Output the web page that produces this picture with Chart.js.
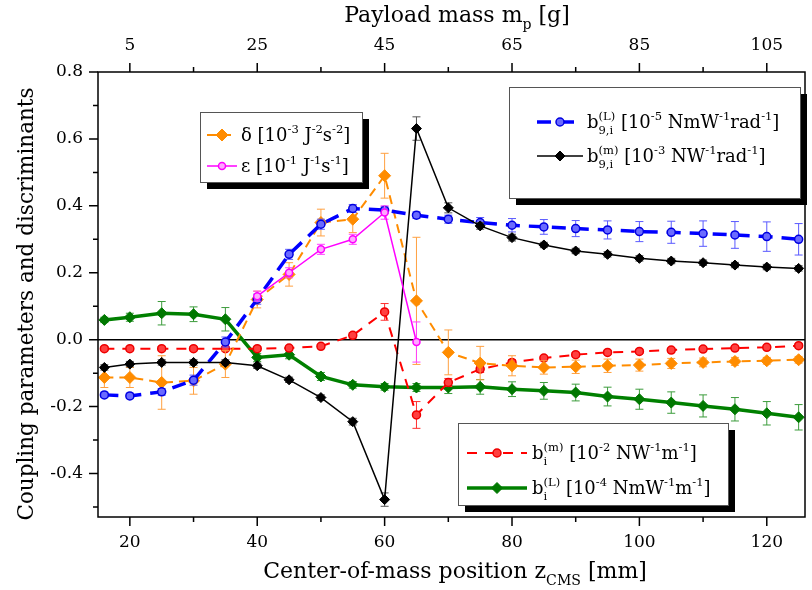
<!DOCTYPE html>
<html>
<head>
<meta charset="utf-8">
<script src="https://cdn.jsdelivr.net/npm/chart.js@4"></script>
<style>
  html, body { margin: 0; padding: 0; background: #fff; }
  canvas { display: block; }
</style>
</head>
<body>
<canvas id="coupling-chart" width="812" height="590"></canvas>
<script>
// Center-of-mass positions z_CMS [mm]
const zPositions = [16, 20, 25, 30, 35, 40, 45, 50, 55, 60, 65, 70, 75, 80, 85, 90, 95, 100, 105, 110, 115, 120, 125];

// Axis tick labels
const zTickLabels    = [20, 40, 60, 80, 100, 120];
const zMinorTicks    = [30, 50, 70, 90, 110];
const massTickLabels = [5, 25, 45, 65, 85, 105];
const massMinorTicks = [15, 35, 55, 75, 95];
const yTickLabels    = [-0.4, -0.2, 0.0, 0.2, 0.4, 0.6, 0.8];
const yMinorTicks    = [-0.5, -0.3, -0.1, 0.1, 0.3, 0.5, 0.7];

// b_9,i^(L) [1e-5 NmW^-1 rad^-1]
const b9LValues = [-0.165, -0.168, -0.156, -0.121, -0.007, 0.121, 0.255, 0.345, 0.392, 0.387, 0.372, 0.360,
                   0.350, 0.342, 0.337, 0.332, 0.328, 0.323, 0.321, 0.317, 0.313, 0.308, 0.300];
const b9LErrors = [0.008, 0.008, 0.010, 0.015, 0.015, 0.015, 0.015, 0.015, 0.012, 0.010, 0.010, 0.012,
                   0.015, 0.020, 0.022, 0.024, 0.027, 0.030, 0.033, 0.038, 0.040, 0.044, 0.047];

// b_9,i^(m) [1e-3 NW^-1 rad^-1]
const b9mValues = [-0.083, -0.073, -0.068, -0.068, -0.068, -0.078, -0.120, -0.173, -0.245, -0.478, 0.631, 0.394,
                   0.340, 0.305, 0.283, 0.265, 0.255, 0.243, 0.235, 0.230, 0.223, 0.217, 0.213];
const b9mErrors = [0.008, 0.008, 0.008, 0.008, 0.008, 0.008, 0.008, 0.008, 0.010, 0.020, 0.035, 0.015,
                   0.010, 0.010, 0.008, 0.008, 0.008, 0.008, 0.008, 0.008, 0.008, 0.008, 0.008];

// delta [1e-3 J^-2 s^-2]
const deltaValues = [-0.113, -0.113, -0.128, -0.123, -0.073, 0.120, 0.195, 0.350, 0.360, 0.490, 0.116, -0.038,
                     -0.070, -0.078, -0.083, -0.081, -0.078, -0.076, -0.071, -0.068, -0.065, -0.063, -0.060];
const deltaErrors = [0.030, 0.030, 0.080, 0.040, 0.040, 0.025, 0.035, 0.040, 0.040, 0.067, 0.190, 0.067,
                     0.050, 0.030, 0.020, 0.020, 0.020, 0.018, 0.015, 0.013, 0.012, 0.010, 0.010];

// epsilon [1e-1 J^-1 s^-1]
const epsValues = [null, null, null, null, null, 0.130, 0.200, 0.270, 0.300, 0.380, -0.007, null,
                   null, null, null, null, null, null, null, null, null, null, null];
const epsErrors = [0, 0, 0, 0, 0, 0.015, 0.015, 0.015, 0.015, 0.020, 0.060, 0,
                   0, 0, 0, 0, 0, 0, 0, 0, 0, 0, 0];

// b_i^(m) [1e-2 NW^-1 m^-1]
const bimValues = [-0.027, -0.027, -0.027, -0.027, -0.027, -0.027, -0.025, -0.020, 0.013, 0.083, -0.225, -0.128,
                   -0.088, -0.068, -0.055, -0.045, -0.038, -0.035, -0.031, -0.028, -0.025, -0.023, -0.018];
const bimErrors = [0.006, 0.006, 0.006, 0.006, 0.006, 0.006, 0.006, 0.006, 0.008, 0.025, 0.040, 0.012,
                   0.010, 0.008, 0.006, 0.006, 0.006, 0.006, 0.006, 0.006, 0.006, 0.006, 0.006];

// b_i^(L) [1e-4 NmW^-1 m^-1]
const biLValues = [0.059, 0.067, 0.079, 0.076, 0.061, -0.053, -0.045, -0.110, -0.135, -0.141, -0.143, -0.143,
                   -0.141, -0.148, -0.153, -0.158, -0.170, -0.178, -0.188, -0.198, -0.208, -0.220, -0.232];
const biLErrors = [0.008, 0.012, 0.035, 0.022, 0.035, 0.012, 0.012, 0.012, 0.010, 0.010, 0.012, 0.018,
                   0.022, 0.022, 0.025, 0.025, 0.028, 0.030, 0.032, 0.033, 0.035, 0.035, 0.038];

const SERIF = '"DejaVu Serif", serif';

function points(values) {
    return zPositions.map(function (z, i) { return { x: z, y: values[i] }; });
}

// Rich text: {t} plain, {sup, sub} stacked small text
function richWidth(ctx, parts, size) {
    let w = 0;
    parts.forEach(function (p) {
        if (p.t !== undefined) {
            ctx.font = size + 'px ' + SERIF;
            w += ctx.measureText(p.t).width;
        } else {
            ctx.font = (size * 0.64) + 'px ' + SERIF;
            w += Math.max(p.sup ? ctx.measureText(p.sup).width : 0, p.sub ? ctx.measureText(p.sub).width : 0);
        }
    });
    return w;
}

function drawRich(ctx, parts, x, y, size, align) {
    let cx = align === 'center' ? x - richWidth(ctx, parts, size) / 2 : x;
    ctx.textAlign = 'left';
    ctx.textBaseline = 'alphabetic';
    parts.forEach(function (p) {
        if (p.t !== undefined) {
            ctx.font = size + 'px ' + SERIF;
            ctx.fillText(p.t, cx, y);
            cx += ctx.measureText(p.t).width;
        } else {
            ctx.font = (size * 0.64) + 'px ' + SERIF;
            let pw = 0;
            if (p.sup) {
                ctx.fillText(p.sup, cx, y - size * 0.42);
                pw = ctx.measureText(p.sup).width;
            }
            if (p.sub) {
                ctx.fillText(p.sub, cx, y + size * 0.32);
                pw = Math.max(pw, ctx.measureText(p.sub).width);
            }
            cx += pw;
        }
    });
}

function drawMarker(ctx, style, r, x, y) {
    ctx.beginPath();
    if (style === 'rectRot') {
        ctx.moveTo(x, y - r);
        ctx.lineTo(x + r, y);
        ctx.lineTo(x, y + r);
        ctx.lineTo(x - r, y);
        ctx.closePath();
    } else {
        ctx.arc(x, y, r, 0, Math.PI * 2);
    }
    ctx.fill();
    ctx.stroke();
}

// Error bars, drawn under each dataset
const errorBars = {
    id: 'errorBars',
    beforeDatasetDraw: function (chart, args) {
        const ds = chart.data.datasets[args.index];
        if (!ds.errors) return;
        const ctx = chart.ctx;
        const xs = chart.scales.x, ys = chart.scales.y;
        ctx.save();
        ctx.strokeStyle = ds.errorColor;
        ctx.lineWidth = 1;
        ds.data.forEach(function (p, i) {
            if (p.y === null || !ds.errors[i]) return;
            const px = xs.getPixelForValue(p.x);
            const t = ys.getPixelForValue(p.y + ds.errors[i]);
            const b = ys.getPixelForValue(p.y - ds.errors[i]);
            ctx.beginPath();
            ctx.moveTo(px, t); ctx.lineTo(px, b);
            ctx.moveTo(px - 4, t); ctx.lineTo(px + 4, t);
            ctx.moveTo(px - 4, b); ctx.lineTo(px + 4, b);
            ctx.stroke();
        });
        ctx.restore();
    }
};

// Zero line, frame, tick marks, axis titles and legend boxes
const decorations = {
    id: 'decorations',
    beforeDatasetsDraw: function (chart) {
        const ctx = chart.ctx, a = chart.chartArea;
        const y0 = chart.scales.y.getPixelForValue(0);
        ctx.save();
        ctx.strokeStyle = '#000';
        ctx.lineWidth = 1.5;
        ctx.beginPath();
        ctx.moveTo(a.left, y0); ctx.lineTo(a.right, y0);
        ctx.stroke();
        ctx.restore();
    },
    afterDatasetsDraw: function (chart) {
        const ctx = chart.ctx, a = chart.chartArea;
        const xs = chart.scales.x, x2 = chart.scales.x2, ys = chart.scales.y;
        ctx.save();
        ctx.strokeStyle = '#000';
        ctx.lineWidth = 1.5;
        ctx.strokeRect(a.left, a.top, a.right - a.left, a.bottom - a.top);
        ctx.beginPath();
        function tickX(scale, v, y, len) {
            const px = scale.getPixelForValue(v);
            ctx.moveTo(px, y); ctx.lineTo(px, y + len);
        }
        function tickY(v, len) {
            const py = ys.getPixelForValue(v);
            ctx.moveTo(a.left, py); ctx.lineTo(a.left - len, py);
        }
        zTickLabels.forEach(function (v) { tickX(xs, v, a.bottom, 9); });
        zMinorTicks.forEach(function (v) { tickX(xs, v, a.bottom, 5); });
        massTickLabels.forEach(function (v) { tickX(x2, v, a.top, -9); });
        massMinorTicks.forEach(function (v) { tickX(x2, v, a.top, -5); });
        yTickLabels.forEach(function (v) { tickY(v, 9); });
        yMinorTicks.forEach(function (v) { tickY(v, 5); });
        ctx.stroke();
        ctx.restore();
    },
    afterDraw: function (chart) {
        const ctx = chart.ctx;
        const opts = chart.options.plugins.decorations;
        ctx.save();
        ctx.fillStyle = '#000';

        // axis titles
        drawRich(ctx, opts.bottomTitle, 455, 578, 22, 'center');
        drawRich(ctx, opts.topTitle, 457, 22, 22, 'center');
        ctx.save();
        ctx.translate(33, 304);
        ctx.rotate(-Math.PI / 2);
        drawRich(ctx, opts.leftTitle, 0, 0, 21.5, 'center');
        ctx.restore();

        // legend boxes
        opts.legends.forEach(function (box) {
            ctx.fillStyle = '#000';
            ctx.fillRect(box.x + 7, box.y + 7, box.w, box.h);
            ctx.fillStyle = '#fff';
            ctx.fillRect(box.x, box.y, box.w, box.h);
            ctx.strokeStyle = '#555';
            ctx.lineWidth = 1;
            ctx.strokeRect(box.x + 0.5, box.y + 0.5, box.w, box.h);
            box.entries.forEach(function (e) {
                const ds = chart.data.datasets[e.dataset];
                ctx.save();
                ctx.strokeStyle = ds.borderColor;
                ctx.lineWidth = ds.borderWidth;
                ctx.setLineDash(ds.borderDash || []);
                ctx.beginPath();
                ctx.moveTo(box.symX1, e.y); ctx.lineTo(box.symX2, e.y);
                ctx.stroke();
                ctx.setLineDash([]);
                ctx.fillStyle = ds.pointBackgroundColor;
                ctx.strokeStyle = ds.pointBorderColor;
                ctx.lineWidth = ds.pointBorderWidth;
                drawMarker(ctx, ds.pointStyle, ds.pointRadius, (box.symX1 + box.symX2) / 2, e.y);
                ctx.restore();
                ctx.fillStyle = '#000';
                drawRich(ctx, e.text, box.textX, e.y + 6, 18, 'left');
            });
        });
        ctx.restore();
    }
};

const canvas = document.getElementById('coupling-chart');

new Chart(canvas, {
    type: 'line',
    data: {
        datasets: [
            {   // 0
                label: 'ε [10^-1 J^-1 s^-1]',
                data: points(epsValues), errors: epsErrors, errorColor: '#ff40ff',
                borderColor: '#ff00ff', borderWidth: 1.5,
                pointStyle: 'circle', pointRadius: 3.5, pointBorderWidth: 1.5,
                pointBackgroundColor: '#ffa8ff', pointBorderColor: '#ff00ff'
            },
            {   // 1
                label: 'b9,i(m) [10^-3 NW^-1 rad^-1]',
                data: points(b9mValues), errors: b9mErrors, errorColor: '#555',
                borderColor: '#000', borderWidth: 1.5,
                pointStyle: 'rectRot', pointRadius: 5, pointBorderWidth: 1,
                pointBackgroundColor: '#000', pointBorderColor: '#000'
            },
            {   // 2
                label: 'b9,i(L) [10^-5 NmW^-1 rad^-1]',
                data: points(b9LValues), errors: b9LErrors, errorColor: '#5a5aff',
                borderColor: '#0000ff', borderWidth: 3.5, borderDash: [14, 9],
                pointStyle: 'circle', pointRadius: 4, pointBorderWidth: 1.5,
                pointBackgroundColor: '#6a6aff', pointBorderColor: '#0000e0'
            },
            {   // 3
                label: 'δ [10^-3 J^-2 s^-2]',
                data: points(deltaValues), errors: deltaErrors, errorColor: '#ffa040',
                borderColor: '#ff8c00', borderWidth: 2, borderDash: [9, 6],
                pointStyle: 'rectRot', pointRadius: 6, pointBorderWidth: 1,
                pointBackgroundColor: '#ff8c00', pointBorderColor: '#ff8c00'
            },
            {   // 4
                label: 'bi(m) [10^-2 NW^-1 m^-1]',
                data: points(bimValues), errors: bimErrors, errorColor: '#ff3030',
                borderColor: '#ff0000', borderWidth: 2, borderDash: [10, 8],
                pointStyle: 'circle', pointRadius: 4, pointBorderWidth: 1.5,
                pointBackgroundColor: '#ff4040', pointBorderColor: '#ee0000'
            },
            {   // 5
                label: 'bi(L) [10^-4 NmW^-1 m^-1]',
                data: points(biLValues), errors: biLErrors, errorColor: '#3c9c3c',
                borderColor: '#008000', borderWidth: 3.5,
                pointStyle: 'rectRot', pointRadius: 5.5, pointBorderWidth: 1,
                pointBackgroundColor: '#007800', pointBorderColor: '#007800'
            }
        ]
    },
    options: {
        responsive: false,
        animation: false,
        devicePixelRatio: 1,
        layout: { padding: { left: 0, right: 5, top: 0, bottom: 0 } },
        elements: { line: { tension: 0 } },
        scales: {
            x: {
                type: 'linear', position: 'bottom', min: 15, max: 126,
                grid: { display: false, drawTicks: false },
                border: { display: false },
                afterBuildTicks: function (s) { s.ticks = zTickLabels.map(function (v) { return { value: v }; }); },
                afterFit: function (s) { s.height = 73; },
                ticks: { autoSkip: false, maxRotation: 0, padding: 15, color: '#000', font: { family: SERIF, size: 17 } }
            },
            x2: {
                type: 'linear', position: 'top', min: 0, max: 111,
                grid: { display: false, drawTicks: false },
                border: { display: false },
                afterBuildTicks: function (s) { s.ticks = massTickLabels.map(function (v) { return { value: v }; }); },
                afterFit: function (s) { s.height = 72; },
                ticks: { autoSkip: false, maxRotation: 0, padding: 16, color: '#000', font: { family: SERIF, size: 17 } }
            },
            y: {
                type: 'linear', min: -0.53, max: 0.8,
                grid: { display: false, drawTicks: false },
                border: { display: false },
                afterBuildTicks: function (s) { s.ticks = yTickLabels.map(function (v) { return { value: v }; }); },
                afterFit: function (s) { s.width = 98; },
                ticks: {
                    autoSkip: false, padding: 15, color: '#000', font: { family: SERIF, size: 17 },
                    callback: function (v) { return Number(v).toFixed(1); }
                }
            }
        },
        plugins: {
            legend: { display: false },
            tooltip: { enabled: false },
            decorations: {
                bottomTitle: [{ t: 'Center-of-mass position z' }, { sub: 'CMS' }, { t: ' [mm]' }],
                topTitle: [{ t: 'Payload mass m' }, { sub: 'p' }, { t: ' [g]' }],
                leftTitle: [{ t: 'Coupling parameters and discriminants' }],
                legends: [
                    {
                        x: 200, y: 112, w: 162, h: 70, symX1: 207, symX2: 237, textX: 241,
                        entries: [
                            { dataset: 3, y: 135, text: [{ t: 'δ [10' }, { sup: '-3' }, { t: ' J' }, { sup: '-2' }, { t: 's' }, { sup: '-2' }, { t: ']' }] },
                            { dataset: 0, y: 166, text: [{ t: 'ε [10' }, { sup: '-1' }, { t: ' J' }, { sup: '-1' }, { t: 's' }, { sup: '-1' }, { t: ']' }] }
                        ]
                    },
                    {
                        x: 509, y: 87, w: 291, h: 111, symX1: 537, symX2: 583, textX: 587,
                        entries: [
                            { dataset: 2, y: 122, text: [{ t: 'b' }, { sup: '(L)', sub: '9,i' }, { t: ' [10' }, { sup: '-5' }, { t: ' NmW' }, { sup: '-1' }, { t: 'rad' }, { sup: '-1' }, { t: ']' }] },
                            { dataset: 1, y: 156, text: [{ t: 'b' }, { sup: '(m)', sub: '9,i' }, { t: ' [10' }, { sup: '-3' }, { t: ' NW' }, { sup: '-1' }, { t: 'rad' }, { sup: '-1' }, { t: ']' }] }
                        ]
                    },
                    {
                        x: 458, y: 423, w: 270, h: 82, symX1: 467, symX2: 527, textX: 532,
                        entries: [
                            { dataset: 4, y: 453, text: [{ t: 'b' }, { sup: '(m)', sub: 'i' }, { t: ' [10' }, { sup: '-2' }, { t: ' NW' }, { sup: '-1' }, { t: 'm' }, { sup: '-1' }, { t: ']' }] },
                            { dataset: 5, y: 488, text: [{ t: 'b' }, { sup: '(L)', sub: 'i' }, { t: ' [10' }, { sup: '-4' }, { t: ' NmW' }, { sup: '-1' }, { t: 'm' }, { sup: '-1' }, { t: ']' }] }
                        ]
                    }
                ]
            }
        }
    },
    plugins: [errorBars, decorations]
});
</script>
</body>
</html>
